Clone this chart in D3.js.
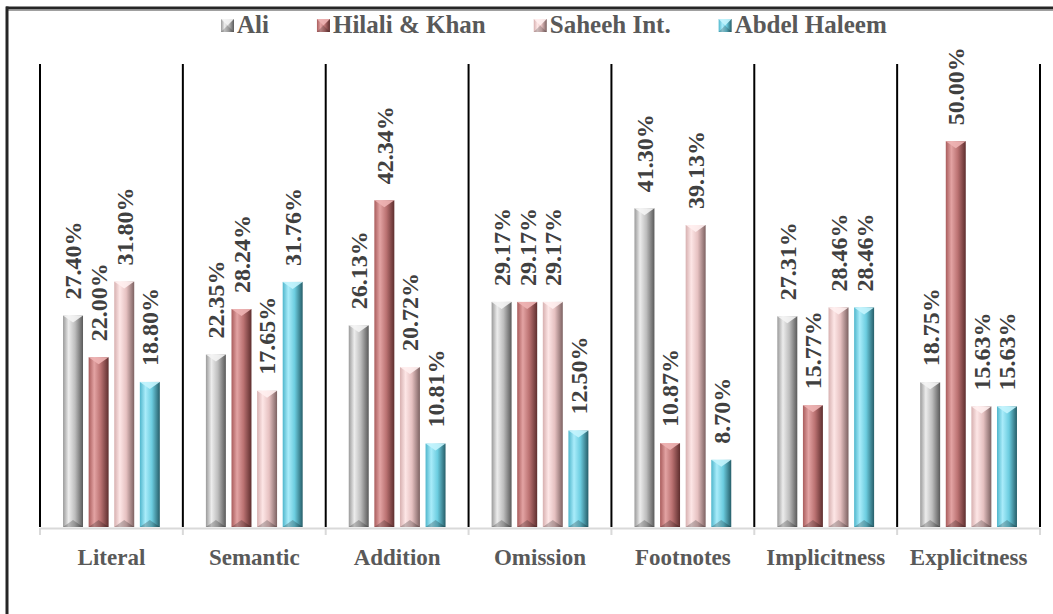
<!DOCTYPE html>
<html>
<head>
<meta charset="utf-8">
<script src="https://cdn.jsdelivr.net/npm/d3@7"></script>
<style>
  html, body { margin: 0; padding: 0; background: #ffffff; }
  svg { display: block; }
</style>
</head>
<body>
<svg id="chart" width="1053" height="614"></svg>
<script>
// ---- Data ----
const categories = ["Literal", "Semantic", "Addition", "Omission", "Footnotes", "Implicitness", "Explicitness"];
const seriesNames = ["Ali", "Hilali & Khan", "Saheeh Int.", "Abdel Haleem"];
const ali        = [27.40, 22.35, 26.13, 29.17, 41.30, 27.31, 18.75];
const hilaliKhan = [22.00, 28.24, 42.34, 29.17, 10.87, 15.77, 50.00];
const saheehInt  = [31.80, 17.65, 20.72, 29.17, 39.13, 28.46, 15.63];
const abdelHaleem= [18.80, 31.76, 10.81, 12.50, 8.70, 28.46, 15.63];
const seriesValues = [ali, hilaliKhan, saheehInt, abdelHaleem];

// ---- Styles ----
const FONT = "'Liberation Serif', 'Times New Roman', serif";
const gradStops = [
  [["#9a9a9a", 0], ["#ececec", 0.28], ["#bdbdbd", 0.6], ["#5a5a5a", 1]],
  [["#a95c5c", 0], ["#e3a3a3", 0.28], ["#bb7272", 0.6], ["#5e2e2e", 1]],
  [["#d7b0b0", 0], ["#fde6e6", 0.28], ["#e6c1c1", 0.6], ["#7d6262", 1]],
  [["#4fb6cc", 0], ["#a9ecfa", 0.28], ["#6ccde0", 0.6], ["#265e69", 1]]
];
const capColors = ["#f4f4f4", "#eeb4b4", "#fff0f0", "#c4f4fd"];

const svg = d3.select("#chart");
const defs = svg.append("defs");
gradStops.forEach((stops, i) => {
  const g = defs.append("linearGradient").attr("id", "grad" + i)
    .attr("x1", "0%").attr("x2", "100%").attr("y1", "0%").attr("y2", "0%");
  stops.forEach(s => g.append("stop").attr("offset", s[1]).attr("stop-color", s[0]));
});

// ---- Frame ----
svg.append("line").attr("x1", 6).attr("x2", 1053).attr("y1", 8).attr("y2", 8)
  .attr("stroke", "#262626").attr("stroke-width", 3);
svg.append("line").attr("x1", 6).attr("x2", 1053).attr("y1", 10.5).attr("y2", 10.5)
  .attr("stroke", "#a0a0a0").attr("stroke-width", 1);
svg.append("line").attr("x1", 7).attr("x2", 7).attr("y1", 6.5).attr("y2", 614)
  .attr("stroke", "#262626").attr("stroke-width", 3);

// ---- Scales ----
const plotLeft = 40, plotRight = 1040, plotTop = 64, baseY = 527;
const x0 = d3.scaleBand().domain(categories).range([plotLeft, plotRight]).padding(0);
const x1 = d3.scaleBand().domain(seriesNames).range([0, x0.bandwidth()])
  .paddingInner(0.22).paddingOuter(0.9);
const y = d3.scaleLinear().domain([0, 60]).range([baseY, plotTop]);

// ---- Axis line & ticks ----
const boundaries = categories.map(c => x0(c)).concat([plotRight]);
svg.append("line").attr("x1", plotLeft).attr("x2", plotRight).attr("y1", baseY + 1.5).attr("y2", baseY + 1.5)
  .attr("stroke", "#d9d9d9").attr("stroke-width", 2);
svg.selectAll(".tk").data(boundaries).join("line")
  .attr("x1", d => d).attr("x2", d => d).attr("y1", baseY + 1).attr("y2", baseY + 8)
  .attr("stroke", "#d9d9d9").attr("stroke-width", 2);

// ---- Separators ----
svg.selectAll(".sep").data(boundaries).join("line")
  .attr("x1", d => d).attr("x2", d => d).attr("y1", plotTop).attr("y2", baseY)
  .attr("stroke", "#000").attr("stroke-width", 2);

// ---- Category axis ----
const xAxis = svg.append("g").attr("transform", `translate(0,${baseY})`)
  .call(d3.axisBottom(x0).tickSize(0).tickPadding(22));
xAxis.select(".domain").remove();
xAxis.attr("font-family", null).attr("font-size", null);
xAxis.selectAll("text")
  .style("font-family", FONT).style("font-weight", "bold").style("font-size", "23px")
  .attr("fill", "#595959");

// ---- Bars ----
const bw = x1.bandwidth();
categories.forEach((cat, ci) => {
  seriesNames.forEach((s, si) => {
    const v = seriesValues[si][ci];
    const bx = x0(cat) + x1(s);
    const by = y(v);
    const g = svg.append("g");
    g.append("rect").attr("x", bx).attr("y", by).attr("width", bw).attr("height", baseY - by)
      .attr("fill", `url(#grad${si})`);
    g.append("path")
      .attr("d", `M${bx},${by}L${bx + bw},${by}L${bx + bw / 2},${by + 7}Z`)
      .attr("fill", capColors[si]).attr("opacity", 0.9);
    g.append("path")
      .attr("d", `M${bx},${baseY}L${bx + bw / 2},${baseY - 7}L${bx + bw},${baseY}Z`)
      .attr("fill", "#000").attr("opacity", 0.22);
    svg.append("text")
      .attr("transform", `translate(${bx + bw / 2},${by - 16}) rotate(-90)`)
      .attr("dy", "0.35em")
      .attr("text-anchor", "start")
      .style("font-family", FONT).style("font-weight", "bold").style("font-size", "24px")
      .attr("fill", "#404040")
      .text(v.toFixed(2) + "%");
  });
});

// ---- Legend ----
const legend = svg.append("g");
let lx = 221;
seriesNames.forEach((s, i) => {
  const item = legend.append("g").attr("transform", `translate(${lx},0)`);
  item.append("rect").attr("x", 0).attr("y", 19).attr("width", 13).attr("height", 13)
    .attr("fill", `url(#grad${i})`);
  item.append("path").attr("d", "M0,19L13,19L6.5,25.5Z").attr("fill", capColors[i]).attr("opacity", 0.9);
  item.append("path").attr("d", "M0,32L6.5,25.5L13,32Z").attr("fill", "#000").attr("opacity", 0.2);
  const t = item.append("text").attr("x", 16).attr("y", 33)
    .style("font-family", FONT).style("font-weight", "bold").style("font-size", "25px")
    .attr("fill", "#595959").text(s);
  lx += 16 + t.node().getComputedTextLength() + 48;
});
</script>
</body>
</html>
